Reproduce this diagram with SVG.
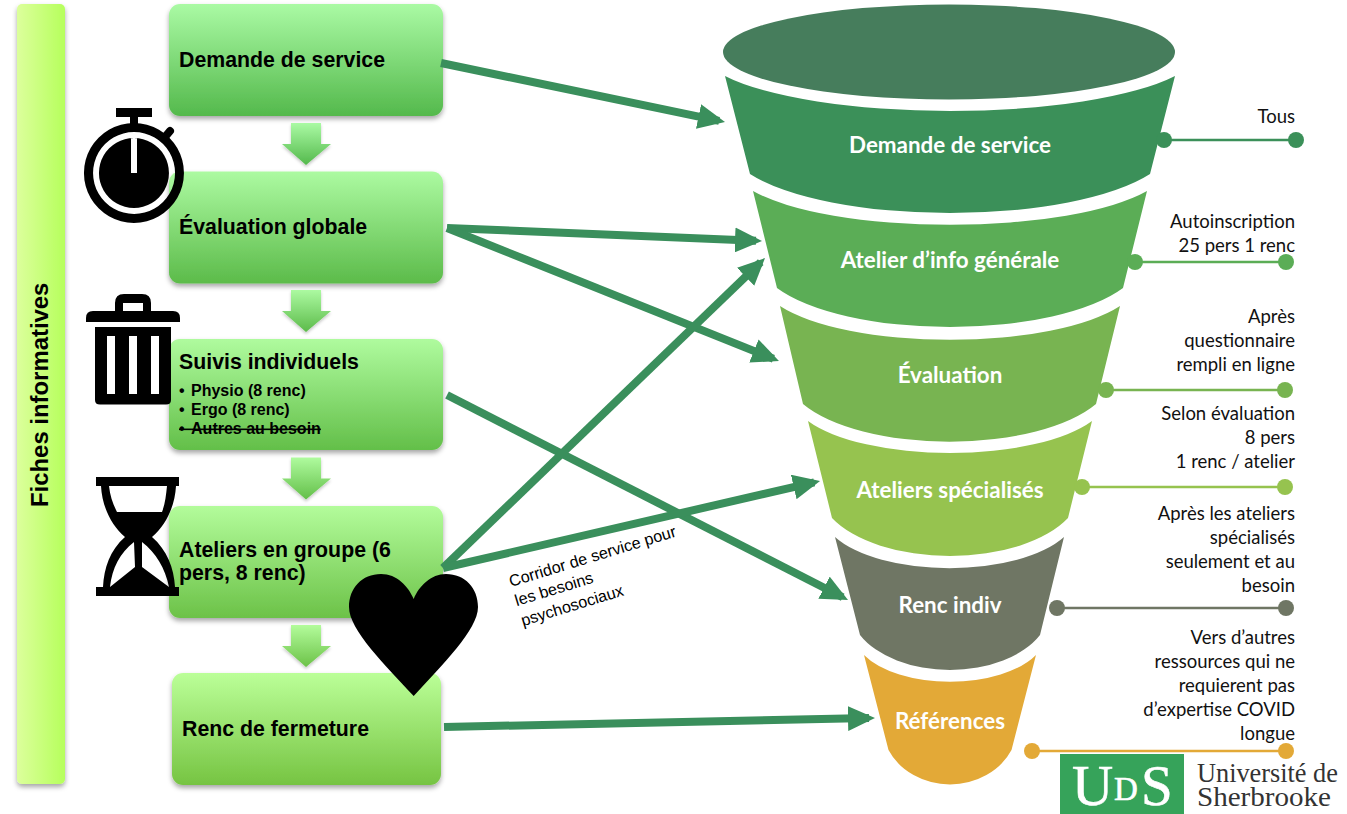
<svg xmlns="http://www.w3.org/2000/svg" width="1347" height="814" viewBox="0 0 1347 814">
<style>
.bt{font-family:"Liberation Sans",Arial,sans-serif;font-weight:700;font-size:21.300px;fill:#000}
.st{font-family:"Liberation Sans",Arial,sans-serif;font-weight:700;font-size:16px;fill:#000}
.ct{font-family:"Liberation Sans",Arial,sans-serif;font-size:16.200px;fill:#000}
.ft{font-family:Lato,"Open Sans",sans-serif;font-weight:700;font-size:22.400px;fill:#fff;text-anchor:middle}
.rt{font-family:Lato,"Open Sans",sans-serif;font-size:18.500px;fill:#111;text-anchor:end}
.conn{fill:none;stroke:#3a8f5c;stroke-width:8;marker-end:url(#ah)}
.lead{stroke-width:2.5}
.ls{font-family:"Liberation Serif",serif;fill:#fff;stroke:#fff;stroke-width:.6}
.lt{font-family:"Liberation Serif",serif;fill:#333;font-size:26.300px}
</style>
<defs>
<filter id="sh" x="-10%" y="-10%" width="120%" height="125%"><feDropShadow dx="0" dy="3" stdDeviation="2.5" flood-color="#000" flood-opacity=".35"/></filter>
<filter id="sa" x="-20%" y="-20%" width="140%" height="140%"><feDropShadow dx="0" dy="2" stdDeviation="1.5" flood-color="#000" flood-opacity=".22"/></filter>
<linearGradient id="bar" x1="0" x2="1" y1="0" y2="0"><stop offset="0" stop-color="#dcff9c"/><stop offset="1" stop-color="#b6ff5c"/></linearGradient>
<linearGradient id="g1" x1="0" x2="0" y1="0" y2="1"><stop offset="0" stop-color="#aafaa4"/><stop offset="1" stop-color="#54b94c"/></linearGradient>
<linearGradient id="g2" x1="0" x2="0" y1="0" y2="1"><stop offset="0" stop-color="#acfaa1"/><stop offset="1" stop-color="#5cbb4a"/></linearGradient>
<linearGradient id="g3" x1="0" x2="0" y1="0" y2="1"><stop offset="0" stop-color="#affb9e"/><stop offset="1" stop-color="#63bf49"/></linearGradient>
<linearGradient id="g4" x1="0" x2="0" y1="0" y2="1"><stop offset="0" stop-color="#b3fc9b"/><stop offset="1" stop-color="#6cc248"/></linearGradient>
<linearGradient id="g5" x1="0" x2="0" y1="0" y2="1"><stop offset="0" stop-color="#bbff98"/><stop offset="1" stop-color="#76c442"/></linearGradient>
<marker id="ah" viewBox="0 0 27 25" refX="21" refY="12.5" markerWidth="27" markerHeight="25" markerUnits="userSpaceOnUse" orient="auto"><path d="M0 0L27 12.5L0 25Z" fill="#3a8f5c"/></marker>
<path id="da" d="M291 123H321V144H331L306 165L282 144H291Z"/>
</defs>

<g id="fiches"><rect x="17" y="4" width="48" height="780" rx="5" fill="url(#bar)" filter="url(#sh)"/><text class="bt" style="font-size:23.900px" transform="translate(48,507) rotate(-90)">Fiches informatives</text></g>

<g id="n-demande"><rect x="169" y="4" width="274" height="112" rx="11" fill="url(#g1)" filter="url(#sh)"/><text class="bt" x="179" y="67">Demande de service</text></g>
<g id="n-evaluation"><rect x="169" y="171.500" width="274" height="112" rx="11" fill="url(#g2)" filter="url(#sh)"/><text class="bt" x="179" y="234">Évaluation globale</text></g>
<g id="n-suivis"><rect x="169" y="339" width="274" height="111" rx="11" fill="url(#g3)" filter="url(#sh)"/><text class="bt" x="179" y="369">Suivis individuels</text>
<text class="st" x="179" y="396">•</text><text class="st" x="191" y="396">Physio (8 renc)</text>
<text class="st" x="179" y="415">•</text><text class="st" x="191" y="415">Ergo (8 renc)</text>
<text class="st" x="179" y="434" text-decoration="line-through"><tspan style="word-spacing:2px">• </tspan>Autres au besoin</text></g>
<g id="n-ateliers"><rect x="169" y="506" width="274" height="112" rx="11" fill="url(#g4)" filter="url(#sh)"/><text class="bt" x="179" y="557">Ateliers en groupe (6</text><text class="bt" x="179" y="580">pers, 8 renc)</text></g>
<g id="n-fermeture"><rect x="172" y="673" width="269" height="112" rx="11" fill="url(#g5)" filter="url(#sh)"/><text class="bt" x="182" y="736">Renc de fermeture</text></g>

<g id="down-arrows" filter="url(#sa)">
<use href="#da" fill="url(#g1)"/>
<use href="#da" y="167" fill="url(#g2)"/>
<use href="#da" y="334.500" fill="url(#g3)"/>
<use href="#da" y="502" fill="url(#g4)"/>
</g>

<g id="funnel">
<ellipse cx="949" cy="52" rx="226" ry="47.500" fill="#467d5c"/>
<path fill="#3b9059" d="M725 76A250 62 0 0 0 1175 76L1150 174A222 69 0 0 1 750 174Z"/>
<path fill="#5bad56" d="M753 191A219 60 0 0 0 1147 191L1123 288A192 69 0 0 1 777 288Z"/>
<path fill="#78b451" d="M780 306A189 60 0 0 0 1120 306L1096 404A163 67 0 0 1 803 404Z"/>
<path fill="#96c34f" d="M808 421A158 57 0 0 0 1092 421L1068 518A131 67 0 0 1 832 518Z"/>
<path fill="#6f7664" d="M835 537A127 55 0 0 0 1064 537L1040 635A100 62 0 0 1 860 635Z"/>
<path fill="#e3a937" d="M864 655A96 48 0 0 0 1036 655L1011.500 750A68 60 0 0 1 888.500 750Z"/>
<text class="ft" x="950" y="153">Demande de service</text>
<text class="ft" x="950" y="268">Atelier d’info générale</text>
<text class="ft" x="950" y="383">Évaluation</text>
<text class="ft" x="950" y="498">Ateliers spécialisés</text>
<text class="ft" x="950" y="613">Renc indiv</text>
<text class="ft" x="950" y="729">Références</text>
</g>

<g id="leaders">
<g fill="#3b9059" stroke="#3b9059"><line class="lead" x1="1164" y1="140" x2="1296" y2="140"/><circle cx="1164" cy="140" r="8" stroke="none"/><circle cx="1296" cy="140" r="8" stroke="none"/></g>
<g fill="#5bad56" stroke="#5bad56"><line class="lead" x1="1135" y1="262" x2="1286" y2="262"/><circle cx="1135" cy="262" r="8" stroke="none"/><circle cx="1286" cy="262" r="8" stroke="none"/></g>
<g fill="#78b451" stroke="#78b451"><line class="lead" x1="1106" y1="390" x2="1285" y2="390"/><circle cx="1106" cy="390" r="8" stroke="none"/><circle cx="1285" cy="390" r="8" stroke="none"/></g>
<g fill="#96c34f" stroke="#96c34f"><line class="lead" x1="1082" y1="487" x2="1285" y2="487"/><circle cx="1082" cy="487" r="8" stroke="none"/><circle cx="1285" cy="487" r="8" stroke="none"/></g>
<g fill="#6f7664" stroke="#6f7664"><line class="lead" x1="1057" y1="608" x2="1286" y2="608"/><circle cx="1057" cy="608" r="8" stroke="none"/><circle cx="1286" cy="608" r="8" stroke="none"/></g>
<g fill="#e3a937" stroke="#e3a937"><line class="lead" x1="1032" y1="751" x2="1286" y2="751"/><circle cx="1032" cy="751" r="8" stroke="none"/><circle cx="1286" cy="751" r="8" stroke="none"/></g>
</g>

<g id="notes">
<text class="rt" x="1295" y="122.500">Tous</text>
<text class="rt" x="1295" y="227.500">Autoinscription</text><text class="rt" x="1295" y="251.500">25 pers 1 renc</text>
<text class="rt" x="1295" y="322.500">Après</text><text class="rt" x="1295" y="346.500">questionnaire</text><text class="rt" x="1295" y="370.500">rempli en ligne</text>
<text class="rt" x="1295" y="419.500">Selon évaluation</text><text class="rt" x="1295" y="443.500">8 pers</text><text class="rt" x="1295" y="467.500">1 renc / atelier</text>
<text class="rt" x="1295" y="519.500">Après les ateliers</text><text class="rt" x="1295" y="543.500">spécialisés</text><text class="rt" x="1295" y="567.500">seulement et au</text><text class="rt" x="1295" y="591.500">besoin</text>
<text class="rt" x="1295" y="643.500">Vers d’autres</text><text class="rt" x="1295" y="667.500">ressources qui ne</text><text class="rt" x="1295" y="691.500">requierent pas</text><text class="rt" x="1295" y="715.500">d’expertise COVID</text><text class="rt" x="1295" y="739.500">longue</text>
</g>

<g id="connectors">
<path class="conn" d="M441 63L719.100 120.800"/>
<path class="conn" d="M447 228L756 240.800"/>
<path class="conn" d="M447 228L773.400 358.800"/>
<path class="conn" d="M447 395L842.700 597.300"/>
<path class="conn" d="M443 568L760.700 262.200"/>
<path class="conn" d="M443 568L814.200 482.300"/>
<path class="conn" d="M444 727L869 718.100"/>
</g>

<g id="corridor" transform="translate(511,587) rotate(-17)">
<text class="ct" x="0" y="0">Corridor de service pour</text>
<text class="ct" x="0" y="20">les besoins</text>
<text class="ct" x="0" y="41">psychosociaux</text>
</g>

<g id="stopwatch" fill="#000">
<path fill-rule="evenodd" d="M134 123A50 50 0 1 1 133.900 123ZM134 132A41 41 0 1 0 134.100 132ZM134 138A35 35 0 1 1 133.900 138ZM131 138V173H137V138Z"/>
<rect x="116" y="108" width="36" height="9"/><rect x="130" y="117" width="8" height="8"/>
<path d="M165 137L170 131" stroke="#000" stroke-width="8" stroke-linecap="round" fill="none"/>
</g>

<g id="trash" fill="#000">
<path fill-rule="evenodd" d="M115 312V303Q115 294 124 294H142Q151 294 151 303V312H143V303H123V312Z"/>
<path d="M86 322V318Q86 311 93 311H173Q180 311 180 318V322Z"/>
<path fill-rule="evenodd" d="M95 327H171V400Q171 404.500 166 404.500H100Q95 404.500 95 400ZM107 336V394H115V336ZM129 336V394H137V336ZM151 336V394H159V336Z"/>
</g>

<g id="hourglass" fill="#000">
<rect x="96" y="477" width="83" height="9"/><rect x="96" y="587" width="83" height="9"/>
<path fill-rule="evenodd" d="M101 486C102 505 110 524 125 537C110 550 104 568 103 587H175C174 568 167 550 152 537C167 524 175 505 176 486ZM109 486H167C166 496 165 504 162 512H117C113 504 110 496 109 486ZM134 542C120 553 112 568 110 587L135 567ZM142 542C156 553 165 568 169 587L142 567Z"/>
</g>

<g id="heart"><path fill="#000" d="M413.700 696C385 665 349 630 349 607C349 588 362 574 381 574C397 574 408 586 413.700 599C419 586 431 574 446 574C465 574 478 588 478 607C478 630 442 665 413.700 696Z"/></g>

<g id="logo">
<rect x="1060" y="754" width="124" height="60" fill="#36a35a"/>
<text class="ls" x="1072" y="805" font-size="57">U</text>
<text class="ls" x="1114" y="800" font-size="33">D</text>
<text class="ls" x="1141" y="805" font-size="57">S</text>
<text class="lt" x="1197" y="782">Université de</text>
<text class="lt" x="1197" y="806" textLength="134" lengthAdjust="spacingAndGlyphs">Sherbrooke</text>
</g>
</svg>
